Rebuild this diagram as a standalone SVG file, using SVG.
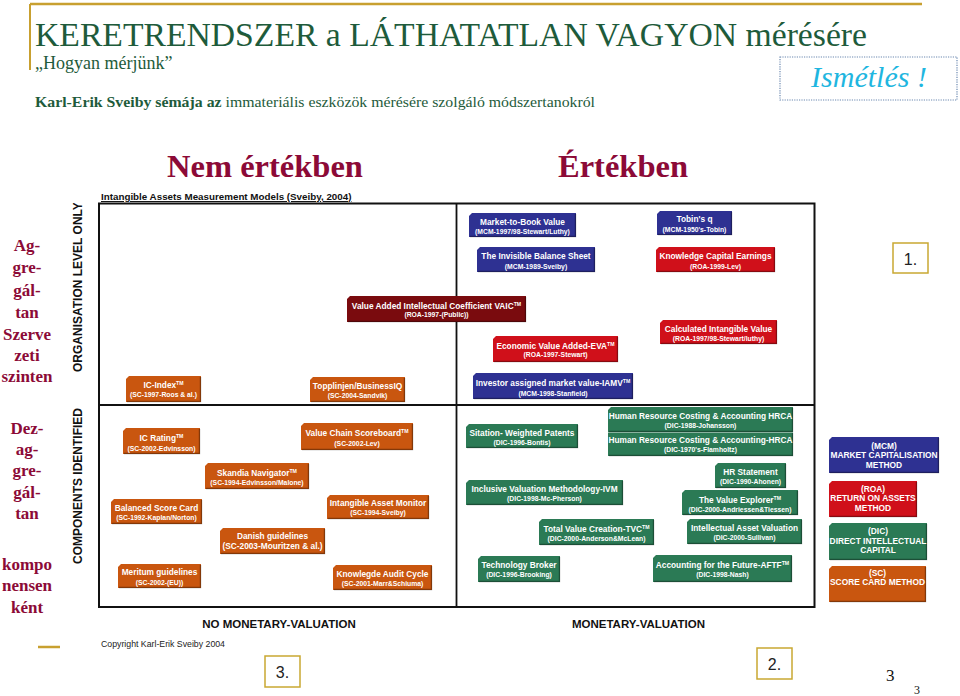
<svg xmlns="http://www.w3.org/2000/svg" width="960" height="696" viewBox="0 0 960 696">
<style>
.serif{font-family:"Liberation Serif","Times New Roman",serif}
.sans{font-family:"Liberation Sans",Arial,sans-serif}
.mcm{fill:#2e3192}
.roa{fill:#d0101a}
.dic{fill:#2b7a55}
.sc{fill:#c9560f}
.vaic{fill:#7a0b0e}
.bev{fill:none;stroke:#000;stroke-opacity:.35;stroke-width:1.4}
.t1{font-family:"Liberation Sans",Arial,sans-serif;font-weight:bold;font-size:8.3px;fill:#fff;text-anchor:middle}
.t2{font-family:"Liberation Sans",Arial,sans-serif;font-weight:bold;font-size:6.8px;fill:#fff;text-anchor:middle}
.tm{font-size:5.2px}
.lg{font-family:"Liberation Sans",Arial,sans-serif;font-weight:bold;font-size:8.4px;fill:#fff;text-anchor:middle}
.hu{font-family:"Liberation Serif","Times New Roman",serif;font-weight:bold;font-size:17px;fill:#8c0a37;text-anchor:middle}
.ax{font-family:"Liberation Sans",Arial,sans-serif;font-weight:bold;font-size:12px;fill:#111}
.num{fill:#fff;stroke:#c9a832;stroke-width:1.5}
.numt{font-family:"Liberation Sans",Arial,sans-serif;font-size:16px;fill:#222;text-anchor:middle}
</style>
<defs>
<clipPath id="axclip"><rect x="60" y="203" width="40" height="200"/></clipPath>
</defs>
<rect width="960" height="696" fill="#fff"/>

<g id="header">
<line x1="30" y1="4" x2="922" y2="4" stroke="#c8a030" stroke-width="2.5"/>
<line x1="30" y1="4" x2="30" y2="70" stroke="#c8a030" stroke-width="2"/>
<text class="serif" x="35" y="46" font-size="33" fill="#1e5b3b" textLength="832" lengthAdjust="spacingAndGlyphs">KERETRENDSZER  a LÁTHATATLAN VAGYON mérésére</text>
<text class="serif" x="35" y="69" font-size="18" fill="#1e5b3b">„Hogyan mérjünk”</text>
<text class="serif" x="35" y="107" font-size="15.5" fill="#1e5b3b" textLength="560" lengthAdjust="spacingAndGlyphs"><tspan font-weight="bold">Karl-Erik Sveiby sémája az</tspan> immateriális eszközök mérésére szolgáló módszertanokról</text>
</g>

<g id="ismetles">
<rect x="780" y="57" width="177" height="43" fill="#fff" stroke="#6a88b0" stroke-width="1.2" stroke-dasharray="1.2,1.2"/>
<text class="serif" x="869" y="87" font-size="30" font-style="italic" fill="#1fb6e0" text-anchor="middle">Ismétlés !</text>
</g>

<g id="headings">
<text class="serif" x="265" y="177" font-size="32.5" font-weight="bold" fill="#8c0a37" text-anchor="middle">Nem értékben</text>
<text class="serif" x="623" y="177" font-size="32.5" font-weight="bold" fill="#8c0a37" text-anchor="middle">Értékben</text>
</g>

<g id="left-labels">
<text class="hu" x="27" y="251">Ag-</text>
<text class="hu" x="27" y="273">gre-</text>
<text class="hu" x="27" y="296">gál-</text>
<text class="hu" x="27" y="318">tan</text>
<text class="hu" x="27" y="340">Szerve</text>
<text class="hu" x="27" y="361">zeti</text>
<text class="hu" x="27" y="382">szinten</text>
<text class="hu" x="27" y="434">Dez-</text>
<text class="hu" x="27" y="455">ag-</text>
<text class="hu" x="27" y="476">gre-</text>
<text class="hu" x="27" y="498">gál-</text>
<text class="hu" x="27" y="519">tan</text>
<text class="hu" x="27" y="570">kompo</text>
<text class="hu" x="27" y="591">nensen</text>
<text class="hu" x="27" y="613">ként</text>
</g>

<g id="axis-labels">
<g clip-path="url(#axclip)"><text class="ax" transform="translate(82,372) rotate(-90)">ORGANISATION LEVEL ONLY</text></g>
<text class="ax" transform="translate(82,564) rotate(-90)">COMPONENTS IDENTIFIED</text>
<text class="sans" x="279" y="628" font-size="11.5" font-weight="bold" fill="#111" text-anchor="middle">NO MONETARY-VALUATION</text>
<text class="sans" x="638.5" y="628" font-size="11.5" font-weight="bold" fill="#111" text-anchor="middle">MONETARY-VALUATION</text>
</g>

<g id="frame">
<text class="sans" x="101" y="200" font-size="9.8" font-weight="bold" fill="#111" text-decoration="underline">Intangible Assets Measurement Models (Sveiby, 2004)</text>
<rect x="99" y="203.5" width="715.5" height="403.5" fill="none" stroke="#111" stroke-width="2"/>
<line x1="456.5" y1="203.5" x2="456.5" y2="607" stroke="#111" stroke-width="1.8"/>
<line x1="99" y1="405" x2="814.5" y2="405" stroke="#111" stroke-width="1.8"/>
</g>

<g id="connectors"></g>

<!-- MCM -->
<g id="n-mtb"><path class="mcm" d="M472,213H576V237H469V216Z"/><polyline class="bev" points="575.5,214 575.5,236.5 470,236.5"/><text class="t1" x="522.5" y="224.5">Market-to-Book Value</text><text class="t2" x="522.5" y="233.5">(MCM-1997/98-Stewart/Luthy)</text></g>
<g id="n-tobin"><path class="mcm" d="M660,211H732V235H657V214Z"/><polyline class="bev" points="731.5,212 731.5,234.5 658,234.5"/><text class="t1" x="694.5" y="222">Tobin's q</text><text class="t2" x="694.5" y="231.5">(MCM-1950's-Tobin)</text></g>
<g id="n-ibs"><path class="mcm" d="M480,247H595V272H477V250Z"/><polyline class="bev" points="594.5,248 594.5,271.5 478,271.5"/><text class="t1" x="536" y="259">The Invisible Balance Sheet</text><text class="t2" x="536" y="268.5">(MCM-1989-Sveiby)</text></g>
<g id="n-iamv"><path class="mcm" d="M476,373H633V399H473V376Z"/><polyline class="bev" points="632.5,374 632.5,398.5 474,398.5"/><text class="t1" x="553" y="386">Investor assigned market value-IAMV<tspan class="tm" dy="-3">TM</tspan></text><text class="t2" x="553" y="395.5">(MCM-1998-Stanfield)</text></g>

<!-- ROA -->
<g id="n-kce"><path class="roa" d="M659,247H775V272H656V250Z"/><polyline class="bev" points="774.5,248 774.5,271.5 657,271.5"/><text class="t1" x="715.5" y="259">Knowledge Capital Earnings</text><text class="t2" x="715.5" y="268.5">(ROA-1999-Lev)</text></g>
<g id="n-civ"><path class="roa" d="M663,320H777V344H660V323Z"/><polyline class="bev" points="776.5,321 776.5,343.5 661,343.5"/><text class="t1" x="718.5" y="331.5">Calculated Intangible Value</text><text class="t2" x="718.5" y="340.5">(ROA-1997/98-Stewart/luthy)</text></g>
<g id="n-eva"><path class="roa" d="M496,336H618V362H493V339Z"/><polyline class="bev" points="617.5,337 617.5,361.5 494,361.5"/><text class="t1" x="555.5" y="348.5">Economic Value Added-EVA<tspan class="tm" dy="-3">TM</tspan></text><text class="t2" x="555.5" y="357">(ROA-1997-Stewart)</text></g>
<g id="n-vaic"><path class="vaic" d="M350,296H526V322H347V299Z"/><polyline class="bev" points="525.5,297 525.5,321.5 348,321.5"/><text class="t1" x="436.5" y="308.5">Value Added Intellectual Coefficient VAIC<tspan class="tm" dy="-3">TM</tspan></text><text class="t2" x="436.5" y="317">(ROA-1997-(Public))</text></g>

<!-- SC -->
<g id="n-icindex"><path class="sc" d="M129,376H201V402H126V379Z"/><polyline class="bev" points="200.5,377 200.5,401.5 127,401.5"/><text class="t1" x="163.5" y="388">IC-Index<tspan class="tm" dy="-3">TM</tspan></text><text class="t2" x="163.5" y="397">(SC-1997-Roos &amp; al.)</text></g>
<g id="n-topp"><path class="sc" d="M313,377H405V402H310V380Z"/><polyline class="bev" points="404.5,378 404.5,401.5 311,401.5"/><text class="t1" x="357.5" y="389">Topplinjen/BusinessIQ</text><text class="t2" x="357.5" y="397.5">(SC-2004-Sandvik)</text></g>
<g id="n-icrating"><path class="sc" d="M126,428H200V454H123V431Z"/><polyline class="bev" points="199.5,429 199.5,453.5 124,453.5"/><text class="t1" x="161.5" y="441">IC Rating<tspan class="tm" dy="-3">TM</tspan></text><text class="t2" x="161.5" y="450.5">(SC-2002-Edvinsson)</text></g>
<g id="n-vcs"><path class="sc" d="M304,423H413V450H301V426Z"/><polyline class="bev" points="412.5,424 412.5,449.5 302,449.5"/><text class="t1" x="357" y="436">Value Chain Scoreboard<tspan class="tm" dy="-3">TM</tspan></text><text class="t2" x="357" y="445.5">(SC-2002-Lev)</text></g>
<g id="n-skandia"><path class="sc" d="M208,463H309V489H205V466Z"/><polyline class="bev" points="308.5,464 308.5,488.5 206,488.5"/><text class="t1" x="257" y="475.5">Skandia Navigator<tspan class="tm" dy="-3">TM</tspan></text><text class="t2" x="257" y="484.5">(SC-1994-Edvinsson/Malone)</text></g>
<g id="n-bsc"><path class="sc" d="M114,499H202V524H111V502Z"/><polyline class="bev" points="201.5,500 201.5,523.5 112,523.5"/><text class="t1" x="156.5" y="510.5">Balanced Score Card</text><text class="t2" x="156.5" y="519.5">(SC-1992-Kaplan/Norton)</text></g>
<g id="n-iam"><path class="sc" d="M330,495H429V519H327V498Z"/><polyline class="bev" points="428.5,496 428.5,518.5 328,518.5"/><text class="t1" x="378" y="506">Intangible Asset Monitor</text><text class="t2" x="378" y="515">(SC-1994-Sveiby)</text></g>
<g id="n-danish"><path class="sc" d="M223,528H325V554H220V531Z"/><polyline class="bev" points="324.5,529 324.5,553.5 221,553.5"/><text class="t1" x="272.5" y="538.5" font-weight="normal">Danish guidelines</text><text class="t1" x="272.5" y="549">(SC-2003-Mouritzen &amp; al.)</text></g>
<g id="n-meritum"><path class="sc" d="M121,564H201V588H118V567Z"/><polyline class="bev" points="200.5,565 200.5,587.5 119,587.5"/><text class="t1" x="159.5" y="575">Meritum guidelines</text><text class="t2" x="159.5" y="584.5">(SC-2002-(EU))</text></g>
<g id="n-kac"><path class="sc" d="M336,565H432V590H333V568Z"/><polyline class="bev" points="431.5,566 431.5,589.5 334,589.5"/><text class="t1" x="382.5" y="576.5">Knowlegde Audit Cycle</text><text class="t2" x="382.5" y="585.5">(SC-2001-Marr&amp;Schiuma)</text></g>

<!-- DIC -->
<g id="n-hrca1"><path class="dic" d="M611,407H793V432H608V410Z"/><polyline class="bev" points="792.5,408 792.5,431.5 609,431.5"/><text class="t1" x="700.5" y="418.5">Human Resource Costing &amp; Accounting HRCA</text><text class="t2" x="700.5" y="427.5">(DIC-1988-Johansson)</text></g>
<g id="n-hrca2"><path class="dic" d="M608,432.5H793V456H608Z"/><polyline class="bev" points="792.5,433 792.5,455.5 609,455.5"/><text class="t1" x="700.5" y="442.5">Human Resource Costing &amp; Accounting-HRCA</text><text class="t2" x="700.5" y="452">(DIC-1970's-Flamholtz)</text></g>
<g id="n-swp"><path class="dic" d="M469,424H578V448H466V427Z"/><polyline class="bev" points="577.5,425 577.5,447.5 467,447.5"/><text class="t1" x="522" y="435.5">Sitation- Weighted Patents</text><text class="t2" x="522" y="444.5">(DIC-1996-Bontis)</text></g>
<g id="n-hrs"><path class="dic" d="M718,463H786V488H715V466Z"/><polyline class="bev" points="785.5,464 785.5,487.5 716,487.5"/><text class="t1" x="750.5" y="474.5">HR Statement</text><text class="t2" x="750.5" y="483.5">(DIC-1990-Ahonen)</text></g>
<g id="n-ivm"><path class="dic" d="M469,480H623V505H466V483Z"/><polyline class="bev" points="622.5,481 622.5,504.5 467,504.5"/><text class="t1" x="544.5" y="491.5">Inclusive Valuation Methodology-IVM</text><text class="t2" x="544.5" y="501">(DIC-1998-Mc-Pherson)</text></g>
<g id="n-tve"><path class="dic" d="M685,490H798V515H682V493Z"/><polyline class="bev" points="797.5,491 797.5,514.5 683,514.5"/><text class="t1" x="740" y="502.5">The Value Explorer<tspan class="tm" dy="-3">TM</tspan></text><text class="t2" x="740" y="512">(DIC-2000-Andriessen&amp;Tiessen)</text></g>
<g id="n-tvc"><path class="dic" d="M542,519H654V545H539V522Z"/><polyline class="bev" points="653.5,520 653.5,544.5 540,544.5"/><text class="t1" x="596.5" y="531.5">Total Value Creation-TVC<tspan class="tm" dy="-3">TM</tspan></text><text class="t2" x="596.5" y="540.5">(DIC-2000-Anderson&amp;McLean)</text></g>
<g id="n-iav"><path class="dic" d="M690,519H802V544H687V522Z"/><polyline class="bev" points="801.5,520 801.5,543.5 688,543.5"/><text class="t1" x="744.5" y="530.5">Intellectual Asset Valuation</text><text class="t2" x="744.5" y="539.5">(DIC-2000-Sullivan)</text></g>
<g id="n-tb"><path class="dic" d="M481,556H560V582H478V559Z"/><polyline class="bev" points="559.5,557 559.5,581.5 479,581.5"/><text class="t1" x="519" y="568">Technology Broker</text><text class="t2" x="519" y="577">(DIC-1996-Brooking)</text></g>
<g id="n-aftf"><path class="dic" d="M656,555H792V582H653V558Z"/><polyline class="bev" points="791.5,556 791.5,581.5 654,581.5"/><text class="t1" x="722.5" y="568">Accounting for the Future-AFTF<tspan class="tm" dy="-3">TM</tspan></text><text class="t2" x="722.5" y="577">(DIC-1998-Nash)</text></g>

<!-- Legend -->
<g id="legend-mcm"><path class="mcm" d="M832,437H939V473H829V440Z"/><polyline class="bev" points="938.5,438 938.5,472.5 830,472.5"/><text class="lg" x="884" y="448.5">(MCM)</text><text class="lg" x="884" y="458">MARKET CAPITALISATION</text><text class="lg" x="884" y="467.5">METHOD</text></g>
<g id="legend-roa"><path class="roa" d="M832,481H917V517H829V484Z"/><polyline class="bev" points="916.5,482 916.5,516.5 830,516.5"/><text class="lg" x="873" y="492">(ROA)</text><text class="lg" x="873" y="501">RETURN ON ASSETS</text><text class="lg" x="873" y="510.5">METHOD</text></g>
<g id="legend-dic"><path class="dic" d="M832,523H927V560H829V526Z"/><polyline class="bev" points="926.5,524 926.5,559.5 830,559.5"/><text class="lg" x="878" y="534">(DIC)</text><text class="lg" x="878" y="543.5">DIRECT INTELLECTUAL</text><text class="lg" x="878" y="553">CAPITAL</text></g>
<g id="legend-sc"><path class="sc" d="M832,566H926V602H829V569Z"/><polyline class="bev" points="925.5,567 925.5,601.5 830,601.5"/><text class="lg" x="877.5" y="576">(SC)</text><text class="lg" x="877.5" y="585">SCORE CARD METHOD</text></g>

<g id="footer">
<line x1="38" y1="647" x2="60" y2="647" stroke="#c8a030" stroke-width="2.5"/>
<text class="sans" x="101" y="647" font-size="8.5" fill="#222" textLength="124" lengthAdjust="spacingAndGlyphs">Copyright Karl-Erik Sveiby 2004</text>
<text class="serif" x="886" y="681" font-size="17" fill="#111">3</text>
<text class="serif" x="914" y="694" font-size="12" fill="#111">3</text>
</g>

<g id="mark-1"><rect class="num" x="893" y="243" width="35" height="30"/><text class="numt" x="910.5" y="265">1.</text></g>
<g id="mark-2"><rect class="num" x="757" y="648" width="35" height="31"/><text class="numt" x="774.5" y="670">2.</text></g>
<g id="mark-3"><rect class="num" x="265" y="656" width="35" height="31"/><text class="numt" x="282.5" y="678">3.</text></g>
</svg>
